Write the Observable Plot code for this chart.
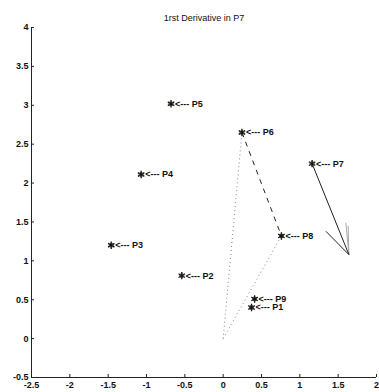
<!DOCTYPE html>
<html>
<head>
<meta charset="utf-8">
<script src="https://cdn.jsdelivr.net/npm/d3@7"></script>
<script src="https://cdn.jsdelivr.net/npm/@observablehq/plot@0.6"></script>
<style>
  html, body { margin: 0; padding: 0; background: #fff; }
  svg { display: block; }
</style>
</head>
<body>
<div id="chart"></div>
<script>
// Points
const names = ["P1", "P2", "P3", "P4", "P5", "P6", "P7", "P8", "P9"];
const xs = [0.37, -0.54, -1.46, -1.07, -0.68, 0.245, 1.16, 0.76, 0.41];
const ys = [0.40, 0.81, 1.20, 2.11, 3.02, 2.65, 2.25, 1.32, 0.51];

// Origin, derivative arrow tip and arrowhead starts
const origin = [0, 0];
const arrowTip = [1.64, 1.08];
const headSolid = [[1.34, 1.38]];
const headGrey = [[1.60, 1.49], [1.63, 1.45]];

// Axes ticks
const xTicks = [-2.5, -2, -1.5, -1, -0.5, 0, 0.5, 1, 1.5, 2];
const yTicks = [-0.5, 0, 0.5, 1, 1.5, 2, 2.5, 3, 3.5, 4];
const title = "1rst Derivative in P7";

const pts = names.map((n, i) => ({name: n, x: xs[i], y: ys[i]}));
const P = n => pts.find(p => p.name === n);

const dashed = [{a: P("P6"), b: P("P8")}];
const dotted = [{a: {x: origin[0], y: origin[1]}, b: P("P6")}, {a: {x: origin[0], y: origin[1]}, b: P("P8")}];
const arrow = [{a: P("P7"), b: {x: arrowTip[0], y: arrowTip[1]}}]
  .concat(headSolid.map(h => ({a: {x: h[0], y: h[1]}, b: {x: arrowTip[0], y: arrowTip[1]}})));
const grey = headGrey.map(h => ({a: {x: h[0], y: h[1]}, b: {x: arrowTip[0], y: arrowTip[1]}}));

const fmt = d => String(d);
const W = 379, H = 392;
const mL = 31, mR = 3, mT = 27, mB = 15;

const chart = Plot.plot({
  width: W,
  height: H,
  marginLeft: mL,
  marginRight: mR,
  marginTop: mT,
  marginBottom: mB,
  style: {fontFamily: "'Liberation Sans', Arial, sans-serif", fontSize: "9px", background: "#fff"},
  x: {domain: [-2.5, 2], ticks: xTicks, label: null},
  y: {domain: [-0.5, 4], ticks: yTicks, label: null},
  marks: [
    Plot.link(dotted, {x1: d => d.a.x, y1: d => d.a.y, x2: d => d.b.x, y2: d => d.b.y, stroke: "#888", strokeWidth: 1, strokeDasharray: "1,3"}),
    Plot.link(dashed, {x1: d => d.a.x, y1: d => d.a.y, x2: d => d.b.x, y2: d => d.b.y, stroke: "#222", strokeWidth: 1, strokeDasharray: "5,5"}),
    Plot.link(grey, {x1: d => d.a.x, y1: d => d.a.y, x2: d => d.b.x, y2: d => d.b.y, stroke: "#aaa", strokeWidth: 1}),
    Plot.link(arrow, {x1: d => d.a.x, y1: d => d.a.y, x2: d => d.b.x, y2: d => d.b.y, stroke: "#222", strokeWidth: 1}),
    Plot.dot(pts, {x: "x", y: "y", symbol: "asterisk", r: 3.5, stroke: "#111", strokeWidth: 1.3}),
    Plot.dot(pts, {x: "x", y: "y", r: 2, stroke: "#333", strokeWidth: 1}),
    Plot.text(pts, {x: "x", y: "y", text: d => "<--- " + d.name, textAnchor: "start", dx: 4, fontWeight: "bold", fontSize: 9, fill: "#111"}),
    Plot.ruleX([xTicks[0]], {stroke: "#222", strokeWidth: 1}),
    Plot.ruleY([yTicks[0]], {stroke: "#222", strokeWidth: 1}),
    Plot.tickX(xTicks, {x: d => d, insetTop: H - mT - mB - 3, stroke: "#222"}),
    Plot.tickY(yTicks, {y: d => d, insetRight: W - mL - mR - 3, stroke: "#222"}),
    Plot.axisX({ticks: xTicks, tickSize: 0, tickPadding: 4, tickFormat: fmt, fontWeight: "bold", fill: "#111", label: null}),
    Plot.axisY({ticks: yTicks, tickSize: 0, tickPadding: 3, tickFormat: fmt, fontWeight: "bold", fill: "#111", label: null}),
    Plot.text([title], {frameAnchor: "top", dy: -13, text: d => d, fontSize: 9, fill: "#111"})
  ]
});
document.getElementById("chart").appendChild(chart);
</script>
</body>
</html>
